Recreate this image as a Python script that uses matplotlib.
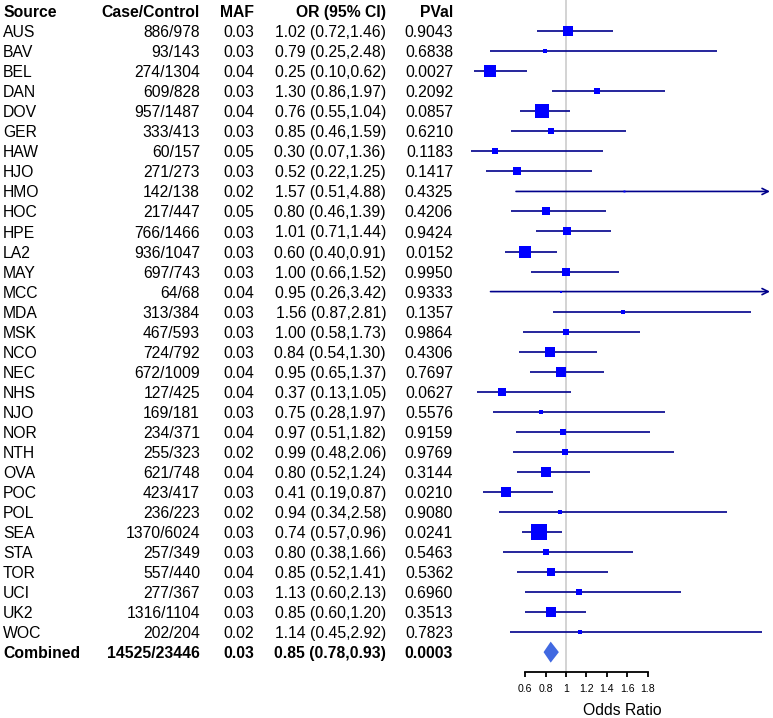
import matplotlib
matplotlib.use("Agg")
import matplotlib.pyplot as plt
import matplotlib.transforms as mtransforms

plt.rcParams['font.family'] = ['Liberation Sans', 'DejaVu Sans']

# ---------------- data ----------------
sources = ["AUS", "BAV", "BEL", "DAN", "DOV", "GER", "HAW", "HJO", "HMO", "HOC",
           "HPE", "LA2", "MAY", "MCC", "MDA", "MSK", "NCO", "NEC", "NHS", "NJO",
           "NOR", "NTH", "OVA", "POC", "POL", "SEA", "STA", "TOR", "UCI", "UK2", "WOC"]
cases = [886, 93, 274, 609, 957, 333, 60, 271, 142, 217, 766, 936, 697, 64, 313, 467,
         724, 672, 127, 169, 234, 255, 621, 423, 236, 1370, 257, 557, 277, 1316, 202]
controls = [978, 143, 1304, 828, 1487, 413, 157, 273, 138, 447, 1466, 1047, 743, 68, 384, 593,
            792, 1009, 425, 181, 371, 323, 748, 417, 223, 6024, 349, 440, 367, 1104, 204]
maf = [0.03, 0.03, 0.04, 0.03, 0.04, 0.03, 0.05, 0.03, 0.02, 0.05, 0.03, 0.03, 0.03, 0.04, 0.03, 0.03,
       0.03, 0.04, 0.04, 0.03, 0.04, 0.02, 0.04, 0.03, 0.02, 0.03, 0.03, 0.04, 0.03, 0.03, 0.02]
odds = [1.02, 0.79, 0.25, 1.30, 0.76, 0.85, 0.30, 0.52, 1.57, 0.80, 1.01, 0.60, 1.00, 0.95, 1.56, 1.00,
        0.84, 0.95, 0.37, 0.75, 0.97, 0.99, 0.80, 0.41, 0.94, 0.74, 0.80, 0.85, 1.13, 0.85, 1.14]
ci_low = [0.72, 0.25, 0.10, 0.86, 0.55, 0.46, 0.07, 0.22, 0.51, 0.46, 0.71, 0.40, 0.66, 0.26, 0.87, 0.58,
          0.54, 0.65, 0.13, 0.28, 0.51, 0.48, 0.52, 0.19, 0.34, 0.57, 0.38, 0.52, 0.60, 0.60, 0.45]
ci_high = [1.46, 2.48, 0.62, 1.97, 1.04, 1.59, 1.36, 1.25, 4.88, 1.39, 1.44, 0.91, 1.52, 3.42, 2.81, 1.73,
           1.30, 1.37, 1.05, 1.97, 1.82, 2.06, 1.24, 0.87, 2.58, 0.96, 1.66, 1.41, 2.13, 1.20, 2.92]
pvals = [0.9043, 0.6838, 0.0027, 0.2092, 0.0857, 0.6210, 0.1183, 0.1417, 0.4325, 0.4206, 0.9424,
         0.0152, 0.9950, 0.9333, 0.1357, 0.9864, 0.4306, 0.7697, 0.0627, 0.5576, 0.9159, 0.9769,
         0.3144, 0.0210, 0.9080, 0.0241, 0.5463, 0.5362, 0.6960, 0.3513, 0.7823]
# relative study weights (box size), largest = 1
weights = [0.57, 0.29, 0.74, 0.41, 0.82, 0.39, 0.37, 0.45, 0.12, 0.43, 0.53, 0.78, 0.49, 0.18, 0.25, 0.39,
           0.57, 0.57, 0.47, 0.26, 0.35, 0.31, 0.57, 0.66, 0.23, 1.00, 0.37, 0.49, 0.35, 0.66, 0.20]

comb_label = "Combined"
comb_cases, comb_controls = 14525, 23446
comb_maf = 0.03
comb_or, comb_low, comb_high = 0.85, 0.78, 0.93
comb_p = 0.0003

headers = ["Source", "Case/Control", "MAF", "OR (95% CI)", "PVal"]
xticks = [0.6, 0.8, 1.0, 1.2, 1.4, 1.6, 1.8]
xtick_labels = ["0.6", "0.8", "1", "1.2", "1.4", "1.6", "1.8"]
xlabel = "Odds Ratio"

# ---------------- figure ----------------
W, H = 773, 718
fig = plt.figure(figsize=(W / 100, H / 100), dpi=100)
ax = fig.add_axes([0, 0, 1, 1])
ax.axis('off')

px_per_unit = 102.0
x_one_px = 566.0
row0_px, row_step = 31.2, 20.03
xmin = 1 - x_one_px / px_per_unit
xmax = 1 + (W - x_one_px) / px_per_unit
ax.set_xlim(xmin, xmax)
ax.set_ylim((H - row0_px) / row_step, -row0_px / row_step)

clip_max = 3.0
line_col = '#00008B'
box_col = '#0000FF'
diam_col = '#4169E1'
max_box_px = 16.3

n = len(sources)
comb_row = n

# reference line at OR = 1
ax.vlines(1.0, -row0_px / row_step, comb_row + 1.0, color='#D3D3D3', lw=1.4, zorder=0)

for i in range(n):
    lo, hi = ci_low[i], ci_high[i]
    if hi > clip_max:
        ax.annotate('', xy=(clip_max, i), xytext=(lo, i),
                    arrowprops=dict(arrowstyle='->', color=line_col, lw=1.2,
                                    shrinkA=0, shrinkB=0, mutation_scale=11))
    else:
        ax.plot([lo, hi], [i, i], color=line_col, lw=1.2, solid_capstyle='butt', zorder=2)
    ax.plot(odds[i], i, marker='s', color=box_col, markeredgewidth=0,
            markersize=weights[i] * max_box_px * 0.72, zorder=3)

# combined diamond
dh = 10.5 / row_step
ax.fill([comb_low, comb_or, comb_high, comb_or],
        [comb_row, comb_row - dh, comb_row, comb_row + dh],
        color=diam_col, lw=0, zorder=3)

# ---------------- table text ----------------
tr = mtransforms.blended_transform_factory(fig.transFigure, ax.transData)
col_x = [3 / W, 200 / W, 254 / W, 386 / W, 453 / W]
col_ha = ['left', 'right', 'right', 'right', 'right']
fs = 11.3

for j, h in enumerate(headers):
    ax.text(col_x[j], -1, h, transform=tr, ha=col_ha[j], va='center_baseline',
            fontsize=fs, fontweight='bold')

for i in range(n):
    vals = [sources[i], f"{cases[i]}/{controls[i]}", f"{maf[i]:.2f}",
            f"{odds[i]:.2f} ({ci_low[i]:.2f},{ci_high[i]:.2f})", f"{pvals[i]:.4f}"]
    for j, v in enumerate(vals):
        ax.text(col_x[j], i, v, transform=tr, ha=col_ha[j], va='center_baseline', fontsize=fs)

comb_vals = [comb_label, f"{comb_cases}/{comb_controls}", f"{comb_maf:.2f}",
             f"{comb_or:.2f} ({comb_low:.2f},{comb_high:.2f})", f"{comb_p:.4f}"]
for j, v in enumerate(comb_vals):
    ax.text(col_x[j], comb_row, v, transform=tr, ha=col_ha[j], va='center_baseline',
            fontsize=fs, fontweight='bold')

# ---------------- x axis ----------------
axis_px = 671.7
ax2 = fig.add_axes([0, (H - axis_px) / H, 1, 0.0001])
ax2.set_xlim(xmin, xmax)
ax2.patch.set_visible(False)
for s in ['top', 'left', 'right']:
    ax2.spines[s].set_visible(False)
ax2.spines['bottom'].set_bounds(xticks[0], xticks[-1])
ax2.spines['bottom'].set_linewidth(1.3)
ax2.set_yticks([])
ax2.set_xticks(xticks)
ax2.set_xticklabels(xtick_labels, fontsize=7.6)
ax2.tick_params(axis='x', direction='out', length=3.8, width=1.3, pad=5.0)

# axis title centred on the plotting panel
ax.text((ci_low[6] + clip_max) / 2 + 0.02, comb_row + 2.9, xlabel,
        ha='center', va='center', fontsize=fs)

fig.savefig('out.png', dpi=100)
